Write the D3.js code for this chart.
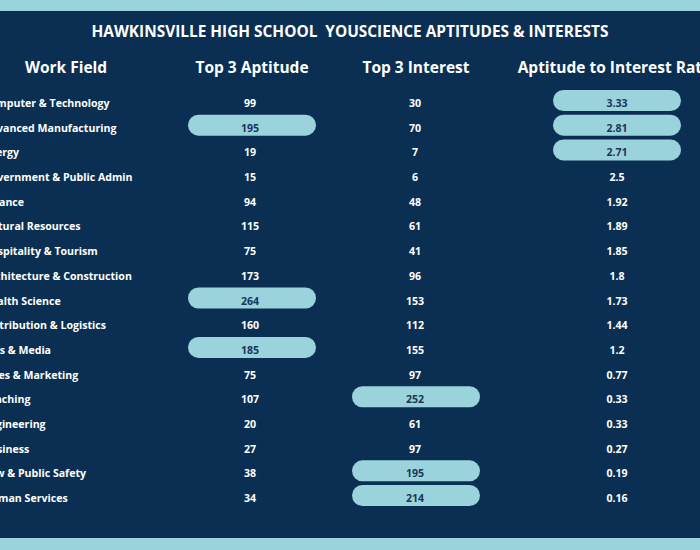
<!DOCTYPE html>
<html>
<head>
<meta charset="utf-8">
<script src="https://cdn.jsdelivr.net/npm/d3@7"></script>
<style>
  html, body { margin: 0; padding: 0; background: #0b2f52; }
  svg { display: block; font-family: "Open Sans", sans-serif; }
</style>
</head>
<body>
<svg id="chart" width="700" height="550"></svg>
<script>
// table data
var fields = ["Computer & Technology", "Advanced Manufacturing", "Energy", "Government & Public Admin",
  "Finance", "Natural Resources", "Hospitality & Tourism", "Architecture & Construction",
  "Health Science", "Distribution & Logistics", "Arts & Media", "Sales & Marketing",
  "Teaching", "Engineering", "Business", "Law & Public Safety", "Human Services"];
var aptitude = [99, 195, 19, 15, 94, 115, 75, 173, 264, 160, 185, 75, 107, 20, 27, 38, 34];
var interest = [30, 70, 7, 6, 48, 61, 41, 96, 153, 112, 155, 97, 252, 61, 97, 195, 214];
var ratio = [3.33, 2.81, 2.71, 2.5, 1.92, 1.89, 1.85, 1.8, 1.73, 1.44, 1.2, 0.77, 0.33, 0.33, 0.27, 0.19, 0.16];
var headers = ["Work Field", "Top 3 Aptitude", "Top 3 Interest", "Aptitude to Interest Ratio"];
var title = "HAWKINSVILLE HIGH SCHOOL  YOUSCIENCE APTITUDES & INTERESTS";

var W = 700, H = 550;
var svg = d3.select("#chart");

var navy = "#0b2f52", pale = "#9bd3dd", ink = "#18375a";

// light bands top and bottom
svg.append("rect").attr("x", 0).attr("y", 0).attr("width", W).attr("height", 11).attr("fill", pale);
svg.append("rect").attr("x", 0).attr("y", 538).attr("width", W).attr("height", 12).attr("fill", pale);

svg.append("text")
  .attr("x", W / 2).attr("y", 37)
  .attr("text-anchor", "middle")
  .attr("fill", "#fff")
  .attr("font-size", 15.4).attr("font-weight", 700)
  .style("white-space", "pre")
  .text(title);

var col = d3.scaleOrdinal().domain(headers).range([66, 252, 416, 617]);
var y = d3.scalePoint().domain(fields).range([103, 498]);

svg.selectAll("text.head").data(headers).enter().append("text")
  .attr("class", "head")
  .attr("x", function(d) { return col(d); })
  .attr("y", 73)
  .attr("text-anchor", "middle")
  .attr("fill", "#fff")
  .attr("font-size", 15.5).attr("font-weight", 700)
  .text(function(d) { return d; });

// work field labels, left aligned (they run off the left edge)
svg.selectAll("text.field").data(fields).enter().append("text")
  .attr("class", "field")
  .attr("x", -17)
  .attr("y", function(d) { return y(d) + 4; })
  .attr("fill", "#fff")
  .attr("font-size", 10.6).attr("font-weight", 700)
  .text(function(d) { return d; });

function topThree(vals) {
  var sorted = vals.slice().sort(function(a, b) { return b - a; });
  return sorted[2];
}

function drawColumn(key, vals, nudge) {
  var cut = topThree(vals);
  var rows = vals.map(function(v, i) { return { field: fields[i], v: v, hot: v >= cut }; });
  var g = svg.append("g");
  g.selectAll("rect").data(rows.filter(function(r) { return r.hot; })).enter().append("rect")
    .attr("x", col(key) - 64)
    .attr("y", function(r) { return y(r.field) - 13; })
    .attr("width", 128).attr("height", 21)
    .attr("rx", 10.5)
    .attr("fill", pale);
  g.selectAll("text").data(rows).enter().append("text")
    .attr("x", col(key) + nudge)
    .attr("y", function(r) { return y(r.field) + 4; })
    .attr("text-anchor", "middle")
    .attr("fill", function(r) { return r.hot ? ink : "#fff"; })
    .attr("font-size", 10.6).attr("font-weight", 700)
    .text(function(r) { return r.v; });
}

drawColumn(headers[1], aptitude, -2);
drawColumn(headers[2], interest, -1);
drawColumn(headers[3], ratio, 0);
</script>
</body>
</html>
